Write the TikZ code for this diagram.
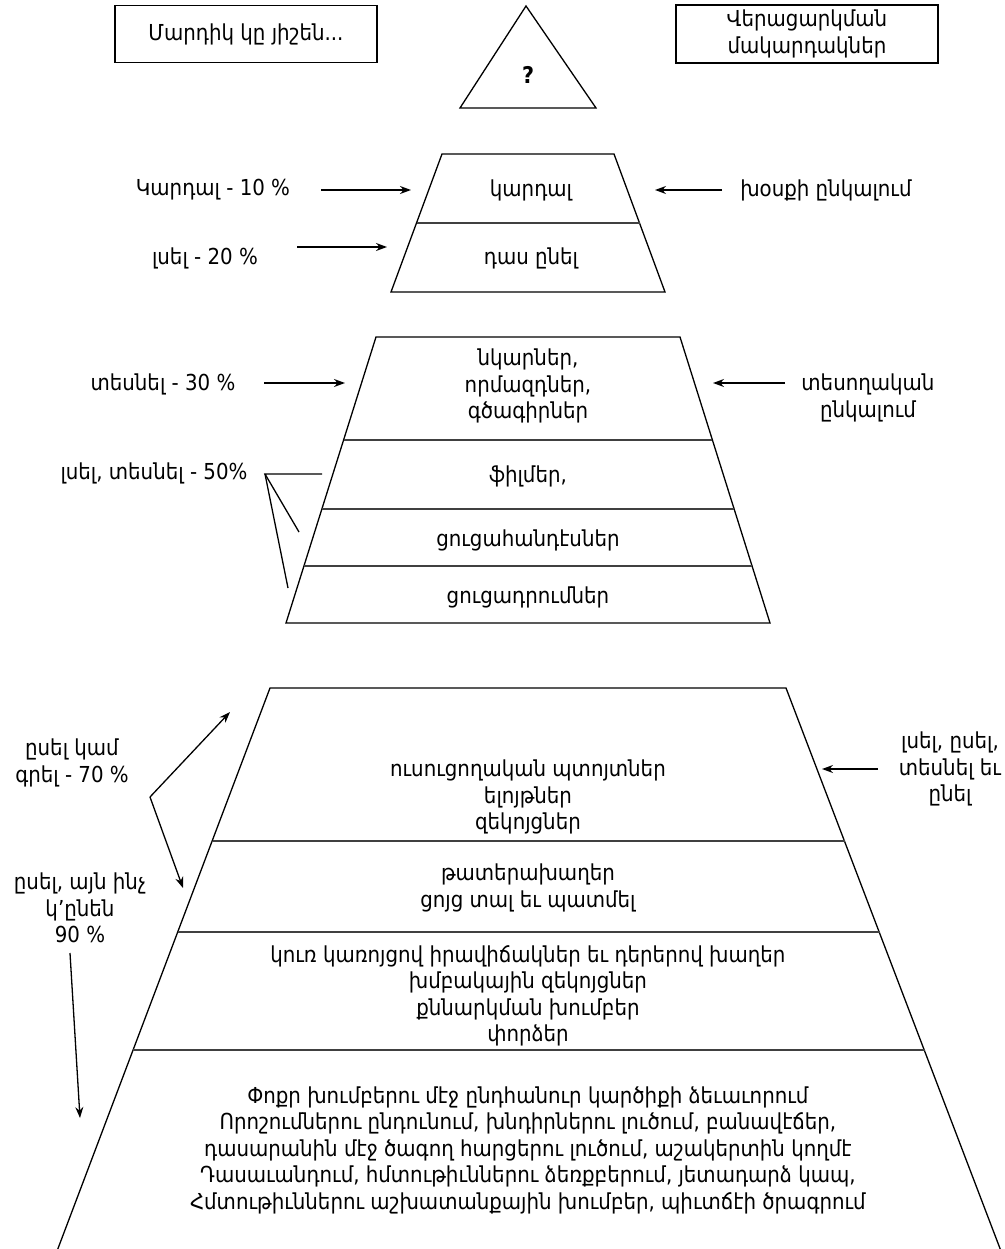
\documentclass[tikz,border=0pt]{standalone}
\usepackage{fontspec}
\setmainfont{DejaVu Sans Condensed}
\usetikzlibrary{arrows.meta}
\begin{document}
\begin{tikzpicture}[x=1pt, y=-1pt,
    txt/.style={font=\fontsize{22}{26.5}\selectfont, align=center, inner sep=0pt},
    box/.style={txt, draw, line width=1.3pt, minimum width=262pt, minimum height=57pt},
    side/.style={line width=1.3pt},
    layer/.style={line width=1.8pt, black!75},
    arr/.style={-{Stealth[length=11pt, width=8pt]}, line width=1.3pt},
    tick/.style={line width=1.3pt},
  ]
  \useasboundingbox (0,0) rectangle (1004,1249);

  % Header
  \node[box] (remember) at (246,34) {Մարդիկ կը յիշեն...};
  \node[box, minimum height=58pt] (levels) at (807,34) {Վերացարկման\\մակարդակներ};
  \draw[side] (526,6) -- (596,108) -- (460,108) -- cycle;
  \node[font=\bfseries\fontsize{23}{23}\selectfont] (qmark) at (528,75) {?};

  % Level 1
  \draw[side] (442,154) -- (614,154) -- (665,292) -- (391,292) -- cycle;
  \draw[layer] (416.5,223) -- (639.5,223);
  \node[txt] (read) at (531,190) {կարդալ};
  \node[txt] (lecture) at (531,258) {դաս ընել};
  \node[txt] (read10) at (213,190) {Կարդալ - 10 \%};
  \node[txt] (hear20) at (205,258) {լսել - 20 \%};
  \node[txt] (speech) at (826,190) {խօսքի ընկալում};
  \coordinate (read10a) at (321,190);  \coordinate (read10b) at (411,190);
  \coordinate (hear20a) at (297,247);  \coordinate (hear20b) at (387,247);
  \coordinate (speecha) at (722,190);  \coordinate (speechb) at (655,190);
  \draw[arr] (read10a) -- (read10b);
  \draw[arr] (hear20a) -- (hear20b);
  \draw[arr] (speecha) -- (speechb);

  % Level 2
  \draw[side] (376,337) -- (680,337) -- (770,623) -- (286,623) -- cycle;
  \draw[layer] (343.6,440) -- (712.4,440);
  \draw[layer] (321.9,509) -- (734.1,509);
  \draw[layer] (303.9,566) -- (752.1,566);
  \node[txt] (pictures) at (528,386) {նկարներ,\\որմազդներ,\\գծագիրներ};
  \node[txt] (films) at (528,476) {ֆիլմեր,};
  \node[txt] (exhib) at (528,540) {ցուցահանդէսներ};
  \node[txt] (demos) at (528,597) {ցուցադրումներ};
  \node[txt] (see30) at (163,384) {տեսնել - 30 \%};
  \node[txt] (visual) at (868,398) {տեսողական\\ընկալում};
  \node[txt] (hearsee50) at (154,473) {լսել, տեսնել - 50\%};
  \coordinate (see30a) at (264,383);   \coordinate (see30b) at (345,383);
  \coordinate (visuala) at (785,383);  \coordinate (visualb) at (713,383);
  \draw[arr] (see30a) -- (see30b);
  \draw[arr] (visuala) -- (visualb);
  % fan of the 50% label
  \coordinate (fan) at (265,474);
  \coordinate (fan1) at (322,474);
  \coordinate (fan2) at (299,532);
  \coordinate (fan3) at (288,588);
  \draw[tick] (fan1) -- (fan) -- (fan2);
  \draw[tick] (fan) -- (fan3);

  % Level 3
  \draw[side] (57.8,1249) -- (270,688) -- (786,688) -- (1000.2,1249);
  \draw[layer] (212.9,841) -- (845.1,841);
  \draw[layer] (178.3,932) -- (879.7,932);
  \draw[layer] (133.4,1050) -- (924.6,1050);
  \node[txt] (tours) at (528,797) {ուսուցողական պտոյտներ\\ելոյթներ\\զեկոյցներ};
  \node[txt] (plays) at (528,888) {թատերախաղեր\\ցոյց տալ եւ պատմել};
  \node[txt] (roles) at (528,996) {կուռ կառոյցով իրավիճակներ եւ դերերով խաղեր\\խմբակային զեկոյցներ\\քննարկման խումբեր\\փորձեր};
  \node[txt] (groups) at (528,1150) {Փոքր խումբերու մէջ ընդհանուր կարծիքի ձեւաւորում\\Որոշումներու ընդունում, խնդիրներու լուծում, բանավէճեր,\\դասարանին մէջ ծագող հարցերու լուծում, աշակերտին կողմէ\\Դասաւանդում, հմտութիւններու ձեռքբերում, յետադարձ կապ,\\Հմտութիւններու աշխատանքային խումբեր, պիւտճէի ծրագրում};
  \node[txt] (say70) at (72,763) {ըսել կամ\\գրել - 70 \%};
  \node[txt] (say90) at (80,908) {ըսել, այն ինչ\\կ՚ընեն\\90 \%};
  \node[txt] (doall) at (950,769) {լսել, ըսել,\\տեսնել եւ\\ընել};
  \coordinate (say70v) at (150,797);
  \coordinate (say70up) at (230,712);
  \coordinate (say70dn) at (183,888);
  \coordinate (say90a) at (70,953);    \coordinate (say90b) at (80,1118);
  \coordinate (doalla) at (878,769);   \coordinate (doallb) at (822,769);
  \draw[arr] (say70v) -- (say70up);
  \draw[arr] (say70v) -- (say70dn);
  \draw[arr] (say90a) -- (say90b);
  \draw[arr] (doalla) -- (doallb);
\end{tikzpicture}
\end{document}
